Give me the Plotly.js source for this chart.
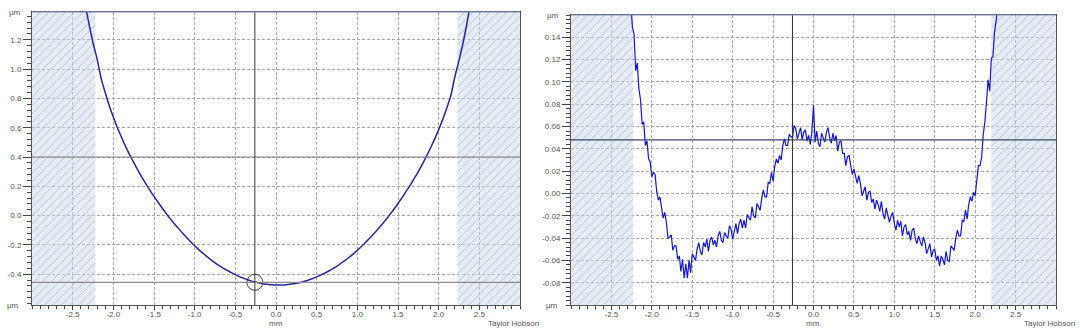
<!DOCTYPE html>
<html><head><meta charset="utf-8">
<script src="https://cdn.plot.ly/plotly-3.0.1.min.js"></script>
<style>html,body{margin:0;padding:0;background:#fff}#chart{width:1080px;height:329px}</style>
</head><body><div id="chart"></div>
<script>
// ---------- DATA ----------
// Left panel: form profile (µm), sampled from x = -2.35 mm every 0.05 mm
const formX0 = -2.35, formDx = 0.05;
const formY = [
  1.45, 1.31, 1.18, 1.07, 0.937, 0.840, 0.750, 0.673, 0.600, 0.535,
  0.473, 0.417, 0.363, 0.312, 0.263, 0.217, 0.173, 0.131, 0.091, 0.052,
  0.015, -0.021, -0.055, -0.087, -0.119, -0.149, -0.178, -0.206, -0.232, -0.256,
  -0.280, -0.301, -0.322, -0.341, -0.358, -0.374, -0.389, -0.403, -0.416, -0.427,
  -0.438, -0.447, -0.454, -0.460, -0.466, -0.469, -0.472, -0.474, -0.474, -0.473,
  -0.470, -0.466, -0.462, -0.456, -0.448, -0.439, -0.429, -0.418, -0.406, -0.392,
  -0.378, -0.362, -0.344, -0.325, -0.305, -0.284, -0.261, -0.237, -0.211, -0.184,
  -0.155, -0.125, -0.094, -0.062, -0.028, 0.008, 0.044, 0.083, 0.123, 0.165,
  0.208, 0.254, 0.301, 0.352, 0.406, 0.462, 0.522, 0.587, 0.657, 0.735,
  0.820, 0.95, 1.06, 1.18, 1.32, 1.48
];
// Right panel: residual profile (µm), sampled from x = -2.26 mm every 0.02 mm
const resX0 = -2.26, resDx = 0.02;
const resY = [
  0.170, 0.149, 0.143, 0.110, 0.117, 0.094, 0.084, 0.062, 0.064, 0.043,
  0.047, 0.031, 0.028, 0.015, 0.019, 0.017, 0.002, -0.006, -0.003, -0.013,
  -0.022, -0.017, -0.026, -0.040, -0.039, -0.037, -0.051, -0.047, -0.047, -0.059,
  -0.056, -0.070, -0.059, -0.076, -0.063, -0.076, -0.060, -0.071, -0.054, -0.057,
  -0.060, -0.050, -0.044, -0.052, -0.055, -0.044, -0.048, -0.041, -0.052, -0.042,
  -0.039, -0.046, -0.042, -0.048, -0.038, -0.034, -0.042, -0.044, -0.035, -0.038,
  -0.040, -0.029, -0.032, -0.041, -0.034, -0.027, -0.036, -0.027, -0.023, -0.031,
  -0.024, -0.031, -0.019, -0.021, -0.024, -0.012, -0.020, -0.022, -0.009, -0.012,
  -0.015, -0.004, 0.003, -0.003, -0.003, 0.010, 0.009, 0.019, 0.011, 0.024,
  0.031, 0.027, 0.034, 0.030, 0.043, 0.049, 0.043, 0.043, 0.053, 0.051,
  0.050, 0.061, 0.058, 0.049, 0.054, 0.059, 0.048, 0.055, 0.057, 0.047,
  0.052, 0.044, 0.055, 0.079, 0.046, 0.056, 0.045, 0.042, 0.054, 0.050,
  0.046, 0.055, 0.059, 0.050, 0.045, 0.054, 0.047, 0.052, 0.038, 0.046,
  0.047, 0.036, 0.036, 0.025, 0.033, 0.034, 0.023, 0.017, 0.022, 0.015,
  0.009, 0.016, 0.009, -0.002, 0.002, 0.006, -0.006, 0.001, 0.002, -0.008,
  -0.005, -0.014, -0.006, -0.010, -0.016, -0.007, -0.018, -0.023, -0.013, -0.020,
  -0.026, -0.020, -0.017, -0.027, -0.033, -0.024, -0.030, -0.025, -0.038, -0.030,
  -0.028, -0.037, -0.034, -0.042, -0.033, -0.031, -0.041, -0.045, -0.038, -0.043,
  -0.047, -0.039, -0.044, -0.054, -0.050, -0.045, -0.057, -0.051, -0.050, -0.060,
  -0.056, -0.065, -0.056, -0.059, -0.064, -0.052, -0.060, -0.061, -0.047, -0.049,
  -0.051, -0.040, -0.033, -0.038, -0.038, -0.024, -0.025, -0.015, -0.023, -0.010,
  -0.003, -0.007, 0.001, -0.002, 0.014, 0.025, 0.025, 0.032, 0.053, 0.064,
  0.082, 0.102, 0.092, 0.121, 0.123, 0.145, 0.155, 0.170
];
const xTicks = [-2.5, -2.0, -1.5, -1.0, -0.5, 0.0, 0.5, 1.0, 1.5, 2.0, 2.5];
const formYTicks = [-0.4, -0.2, 0.0, 0.2, 0.4, 0.6, 0.8, 1.0, 1.2];
const resYTicks = [-0.08, -0.06, -0.04, -0.02, 0.00, 0.02, 0.04, 0.06, 0.08, 0.10, 0.12, 0.14];
const xRange = [-3, 3];
const formRange = [-0.61, 1.39];
const resRange = [-0.10, 0.16];
const formExcluded = [[-3, -2.22], [2.23, 3]];
const resExcluded = [[-3, -2.23], [2.2, 3]];
const formCursorX = -0.26, formCursorY = -0.455, formRefY = 0.4;
const resCursorX = -0.26, resCursorY = 0.048;

// ---------- DRAW ----------
const W = 1080, H = 329;
const px = v => v / W, py = v => 1 - v / H;
const font = {family: '"Liberation Sans", Arial, sans-serif', size: 8, color: '#555'};

function hatch(ranges, yr, xa, ya) {
  return ranges.map(r => ({
    x: [r[0], r[1], r[1], r[0], r[0]], y: [yr[0], yr[0], yr[1], yr[1], yr[0]],
    xaxis: xa, yaxis: ya, type: 'scatter', mode: 'lines', fill: 'toself',
    line: {width: 0}, hoverinfo: 'skip', showlegend: false,
    fillcolor: 'rgba(205,218,234,0.5)',
    fillpattern: {shape: '/', size: 6, solidity: 0.12, fgcolor: 'rgba(140,155,178,0.7)', bgcolor: 'rgba(205,218,234,0.5)'}
  }));
}

const traces = [
  ...hatch(formExcluded, formRange, 'x', 'y'),
  ...hatch(resExcluded, resRange, 'x2', 'y2'),
  {type: 'scatter', mode: 'lines', x0: formX0, dx: formDx, y: formY, xaxis: 'x', yaxis: 'y',
   line: {color: '#28289c', width: 1.5, shape: 'spline', smoothing: 0.6}, showlegend: false},
  {type: 'scatter', mode: 'lines', x0: resX0, dx: resDx, y: resY, xaxis: 'x2', yaxis: 'y2',
   line: {color: '#1414e0', width: 1.2}, showlegend: false},
  {type: 'scatter', mode: 'markers', x: [formCursorX], y: [formCursorY], xaxis: 'x', yaxis: 'y',
   marker: {symbol: 'circle-open', size: 16, color: '#444', line: {width: 1}}, showlegend: false}
];

function xax(dom, anchor) {
  return {domain: dom, anchor: anchor, range: xRange, tickmode: 'array', tickvals: xTicks,
    ticktext: xTicks.map(v => v.toFixed(1)), ticks: 'outside', ticklen: 4, tickcolor: '#444',
    ticklabelstandoff: -3,
    minor: {tickmode: 'linear', tick0: 0, dtick: 0.1, ticks: 'outside', ticklen: 3, tickcolor: '#444', showgrid: false},
    showgrid: true, gridcolor: '#a8a8a8', griddash: '3px,2px', gridwidth: 1,
    showline: true, linecolor: '#555', mirror: true, zeroline: false, tickfont: font, fixedrange: true};
}
function yax(dom, anchor, rng, vals, dec, minorDt) {
  return {domain: dom, anchor: anchor, range: rng, tickmode: 'array', tickvals: vals,
    ticktext: vals.map(v => v.toFixed(dec)), ticks: 'outside', ticklen: 8, tickcolor: '#444',
    minor: {tickmode: 'linear', tick0: 0, dtick: minorDt, ticks: 'outside', ticklen: 4, tickcolor: '#444', showgrid: false},
    showgrid: true, gridcolor: '#a8a8a8', griddash: '3px,2px', gridwidth: 1,
    showline: true, linecolor: '#555', mirror: true, zeroline: false, tickfont: font, fixedrange: true};
}

const shapes = [
  {type: 'line', xref: 'x domain', yref: 'y', x0: 0, x1: 1, y0: formRefY, y1: formRefY, line: {color: '#7d7d7d', width: 1}, layer: 'above'},
  {type: 'line', xref: 'x domain', yref: 'y', x0: 0, x1: 1, y0: formCursorY, y1: formCursorY, line: {color: '#8a8a8a', width: 1.2}, layer: 'above'},
  {type: 'line', xref: 'x', yref: 'y domain', x0: formCursorX, x1: formCursorX, y0: 0, y1: 1, line: {color: '#333', width: 1}, layer: 'above'},
  {type: 'line', xref: 'x2 domain', yref: 'y2', x0: 0, x1: 1, y0: resCursorY, y1: resCursorY, line: {color: '#3a4866', width: 1.2}, layer: 'above'},
  {type: 'line', xref: 'x2', yref: 'y2 domain', x0: resCursorX, x1: resCursorX, y0: 0, y1: 1, line: {color: '#333', width: 1}, layer: 'above'},
  {type: 'line', xref: 'x domain', yref: 'y domain', x0: 0, x1: 1, y0: 1, y1: 1, line: {color: '#7f8dc4', width: 1.2}, layer: 'above'},
  {type: 'line', xref: 'x2 domain', yref: 'y2 domain', x0: 0, x1: 1, y0: 1, y1: 1, line: {color: '#7f8dc4', width: 1.2}, layer: 'above'}
];

function ann(text, x, y, xanchor, yanchor) {
  return {text: text, xref: 'paper', yref: 'paper', x: px(x), y: py(y), xanchor: xanchor || 'center', yanchor: yanchor || 'middle',
    showarrow: false, font: font, borderpad: 0};
}
const annotations = [
  ann('µm', 15, 12), ann('µm', 13, 305), ann('mm', 276, 329, 'center', 'bottom'), ann('Taylor Hobson', 540, 329, 'right', 'bottom'),
  ann('µm', 553, 15), ann('µm', 552, 305), ann('mm', 813, 329, 'center', 'bottom'), ann('Taylor Hobson', 1076, 329, 'right', 'bottom')
];

const layout = {
  width: W, height: H, margin: {l: 0, r: 0, t: 0, b: 0},
  paper_bgcolor: '#fff', plot_bgcolor: '#fff', showlegend: false, font: font,
  xaxis: xax([px(32), px(520)], 'y'),
  yaxis: yax([24 / H, 317 / H], 'x', formRange, formYTicks, 1, 0.04),
  xaxis2: xax([px(571), px(1056)], 'y2'),
  yaxis2: yax([24 / H, 314 / H], 'x2', resRange, resYTicks, 2, 0.004),
  shapes: shapes, annotations: annotations
};
Plotly.newPlot('chart', traces, layout, {staticPlot: true, displayModeBar: false});
</script></body></html>
